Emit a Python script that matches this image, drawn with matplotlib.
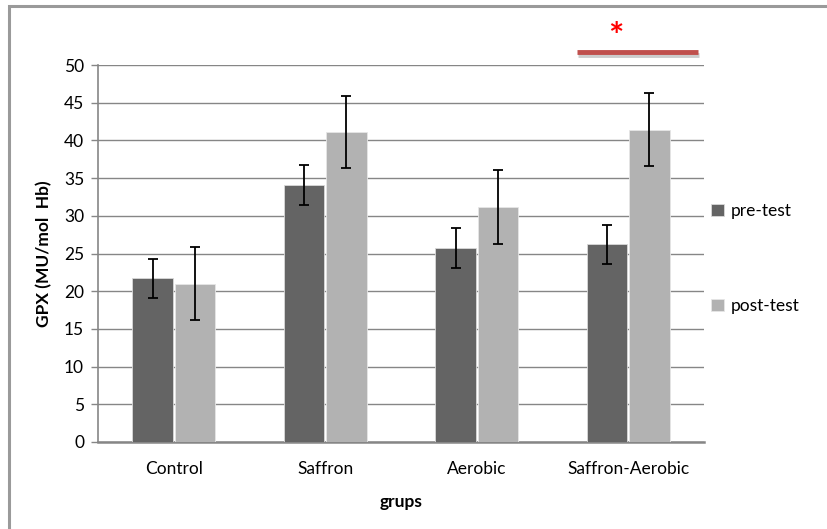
import numpy as np
import matplotlib
matplotlib.use("Agg")
import matplotlib.pyplot as plt
import matplotlib.patheffects as pe

groups = ["Control", "Saffron", "Aerobic", "Saffron-Aerobic"]
pre_mean = [21.7, 34.1, 25.7, 26.2]
pre_sd = [2.6, 2.65, 2.65, 2.6]
post_mean = [21.0, 41.1, 31.2, 41.4]
post_sd = [4.85, 4.8, 4.9, 4.85]

plt.rcParams["font.family"] = ["Lato", "DejaVu Sans"]
fs = 12.5

fig = plt.figure(figsize=(8.27, 5.29), dpi=100)
# outer chart frame
fig.patches.append(plt.Rectangle((9 / 827, -0.05), 1.2, (529 - 6) / 529 + 0.05,
                                 transform=fig.transFigure, fill=False,
                                 edgecolor="#9a9a9a", linewidth=2.2))
ax = fig.add_axes([98 / 827, (529 - 442) / 529, (704 - 98) / 827, (442 - 65) / 529])

x = np.arange(len(groups))
w = 0.265
off = 0.14
ax.bar(x - off, pre_mean, w, color="#646464", edgecolor="#d9d9d9", linewidth=0.6,
       label="pre-test", zorder=3)
ax.bar(x + off, post_mean, w, color="#b2b2b2", edgecolor="#e6e6e6", linewidth=0.6,
       label="post-test", zorder=3)
ax.errorbar(x - off, pre_mean, yerr=pre_sd, fmt="none", ecolor="black",
            elinewidth=1.3, capsize=3.3, capthick=1.3, zorder=4)
ax.errorbar(x + off, post_mean, yerr=post_sd, fmt="none", ecolor="black",
            elinewidth=1.3, capsize=3.3, capthick=1.3, zorder=4)

ax.set_xlim(-0.5, 3.5)
ax.set_ylim(0, 50)
ax.set_yticks(range(0, 51, 5))
ax.set_xticks(x)
ax.set_xticklabels(groups, fontsize=fs)
ax.tick_params(axis="y", labelsize=fs, length=5, color="#868686", width=1, pad=5)
ax.tick_params(axis="x", length=0, pad=14)
ax.grid(axis="y", color="#868686", linewidth=1, zorder=0)
for s in ["top", "right"]:
    ax.spines[s].set_visible(False)
ax.spines["left"].set_color("#868686")
ax.spines["bottom"].set_color("#868686")
ax.spines["bottom"].set_linewidth(1.8)
ax.spines["left"].set_linewidth(1.2)

ax.set_ylabel("GPX (MU/mol  Hb)", fontsize=fs, fontweight="bold", labelpad=8)
ax.set_xlabel("grups", fontsize=fs, fontweight="bold", labelpad=12)

# significance marker
ax.plot([2.66, 3.46], [51.7, 51.7], color="#c0504d", linewidth=3.5, clip_on=False,
        solid_capstyle="butt",
        path_effects=[pe.SimpleLineShadow(offset=(1, -2), alpha=0.2), pe.Normal()])
ax.text(2.92, 53.6, "*", color="red", fontsize=26, fontweight="bold",
        ha="center", va="center", clip_on=False)

ax.legend(loc="upper left", bbox_to_anchor=(0.985, 0.675), frameon=False, fontsize=fs,
          handlelength=0.75, handleheight=0.75, handletextpad=0.4, labelspacing=4.55)

fig.savefig("out.png", dpi=100)
